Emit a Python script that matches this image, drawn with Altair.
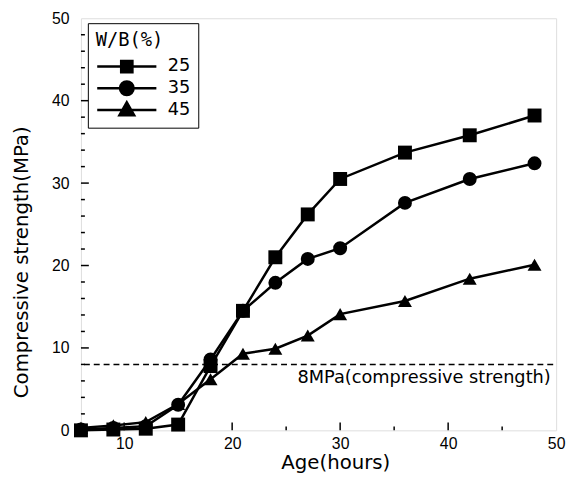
import altair as alt
import pandas as pd

ages = [6, 9, 12, 15, 18, 21, 24, 27, 30, 36, 42, 48]
wb25 = [0.0, 0.1, 0.2, 0.7, 7.8, 14.5, 21.0, 26.2, 30.5, 33.7, 35.8, 38.2]
wb35 = [0.1, 0.3, 0.5, 3.1, 8.6, 14.5, 17.9, 20.8, 22.1, 27.6, 30.5, 32.4]
wb45 = [0.3, 0.6, 1.0, 3.2, 6.2, 9.3, 9.9, 11.5, 14.1, 15.7, 18.4, 20.1]
series_names = ["25", "35", "45"]
x_major = [10, 20, 30, 40]
x_minor = [15, 25, 35, 45]
y_major = [10, 20, 30, 40]
y_minor = [2, 4, 6, 8, 12, 14, 16, 18, 22, 24, 26, 28, 32, 34, 36, 38, 42, 44, 46, 48]
threshold = 8
threshold_label = "8MPa(compressive strength)"

rows = []
for name, vals in zip(series_names, [wb25, wb35, wb45]):
    for a, v in zip(ages, vals):
        rows.append({"age": a, "strength": v, "series": name})
df = pd.DataFrame(rows)

W, H = 482, 418
xscale = alt.Scale(domain=[6, 50], nice=False, zero=False)
yscale = alt.Scale(domain=[0, 50], nice=False, zero=False)
xaxis = alt.Axis(values=[10, 20, 30, 40, 50], ticks=False, domain=False, grid=False,
                 labelFlush=False, labelPadding=5, labelFont="Liberation Sans",
                 labelFontSize=16, labelColor="black", title="Age(hours)",
                 titleFont="DejaVu Sans", titleFontSize=20, titleFontWeight="normal",
                 titleColor="black", titleX=258, titleY=33, titleBaseline="middle")
yaxis = alt.Axis(values=[0, 10, 20, 30, 40, 50], ticks=False, domain=False, grid=False,
                 labelFlush=False, labelPadding=12, labelFont="Liberation Sans",
                 labelFontSize=16, labelColor="black", title="Compressive strength(MPa)",
                 titleFont="DejaVu Sans", titleFontSize=20, titleFontWeight="normal",
                 titleColor="black", titleX=-60, titleY=247, titleBaseline="middle")


def X(f):
    return alt.X(f, type="quantitative", scale=xscale, axis=xaxis)


def Y(f):
    return alt.Y(f, type="quantitative", scale=yscale, axis=yaxis)


lines = alt.Chart(df).mark_line(color="black", strokeWidth=2.5).encode(
    x=X("age"), y=Y("strength"), detail="series:N", order="age:Q")

points = alt.Chart(df).mark_point(filled=True, color="black", opacity=1, size=200).encode(
    x=X("age"), y=Y("strength"),
    shape=alt.Shape("series:N", scale=alt.Scale(domain=series_names,
                                                 range=["square", "circle", "triangle-up"]),
                    legend=None))

legend_paths = [
    "M-1,0H1M-0.19,-0.19H0.19V0.19H-0.19Z",
    "M-1,0H1M0.23,0A0.23,0.23,0,1,1,-0.23,0A0.23,0.23,0,1,1,0.23,0Z",
    "M-1,0H1M0,-0.26L0.25,0.18L-0.25,0.18Z",
]
legend_layer = alt.Chart(df).transform_filter("false").mark_point(
    filled=False, color="black", fill="black", stroke="black", strokeWidth=2.5, opacity=1).encode(
    x=X("age"), y=Y("strength"),
    shape=alt.Shape("series:N", scale=alt.Scale(domain=series_names, range=legend_paths),
                    legend=alt.Legend(orient="none", legendX=7, legendY=5, title="W/B(%)",
                                      titleFont="DejaVu Sans Mono", titleFontSize=19,
                                      titleFontWeight="normal", titleColor="black",
                                      titlePadding=7,
                                      labelFont="DejaVu Sans", labelFontSize=18,
                                      labelColor="black", labelOffset=10,
                                      symbolSize=3600, clipHeight=20, rowPadding=2,
                                      symbolStrokeWidth=2.5, symbolOpacity=1, padding=8,
                                      strokeColor="black", fillColor="white")))

tick_x_major = alt.Chart(pd.DataFrame({"t": x_major})).mark_rule(color="black", strokeWidth=1.5).encode(
    x=X("t"), y=alt.value(H), y2=alt.value(H - 8))
tick_x_minor = alt.Chart(pd.DataFrame({"t": x_minor})).mark_rule(color="black", strokeWidth=1.5).encode(
    x=X("t"), y=alt.value(H), y2=alt.value(H - 4))
tick_y_major = alt.Chart(pd.DataFrame({"t": y_major})).mark_rule(color="black", strokeWidth=1.5).encode(
    y=Y("t"), x=alt.value(0), x2=alt.value(8))
tick_y_minor = alt.Chart(pd.DataFrame({"t": y_minor})).mark_rule(color="black", strokeWidth=1.5).encode(
    y=Y("t"), x=alt.value(0), x2=alt.value(4))

ref_df = pd.DataFrame({"y": [threshold], "x": [49.5], "label": [threshold_label]})
ref_line = alt.Chart(ref_df).mark_rule(color="black", strokeWidth=1.5, strokeDash=[6, 4]).encode(
    y=Y("y"), x=alt.value(3), x2=alt.value(W))
ref_text = alt.Chart(ref_df).mark_text(align="right", baseline="top", dy=5,
                                       font="DejaVu Sans", fontSize=18, color="black").encode(
    x=X("x"), y=Y("y"), text="label:N")

chart = alt.layer(
    ref_line, ref_text, tick_x_major, tick_x_minor, tick_y_major, tick_y_minor,
    lines, points, legend_layer
).resolve_scale(shape="independent").properties(
    width=W, height=H,
    autosize=alt.AutoSizeParams(type="none"),
    padding={"left": 74, "top": 7, "right": 10, "bottom": 50},
).configure_view(stroke="black", strokeWidth=2).configure(background="white")

chart.save("out.html", embed_options={"renderer": "svg", "actions": False})
